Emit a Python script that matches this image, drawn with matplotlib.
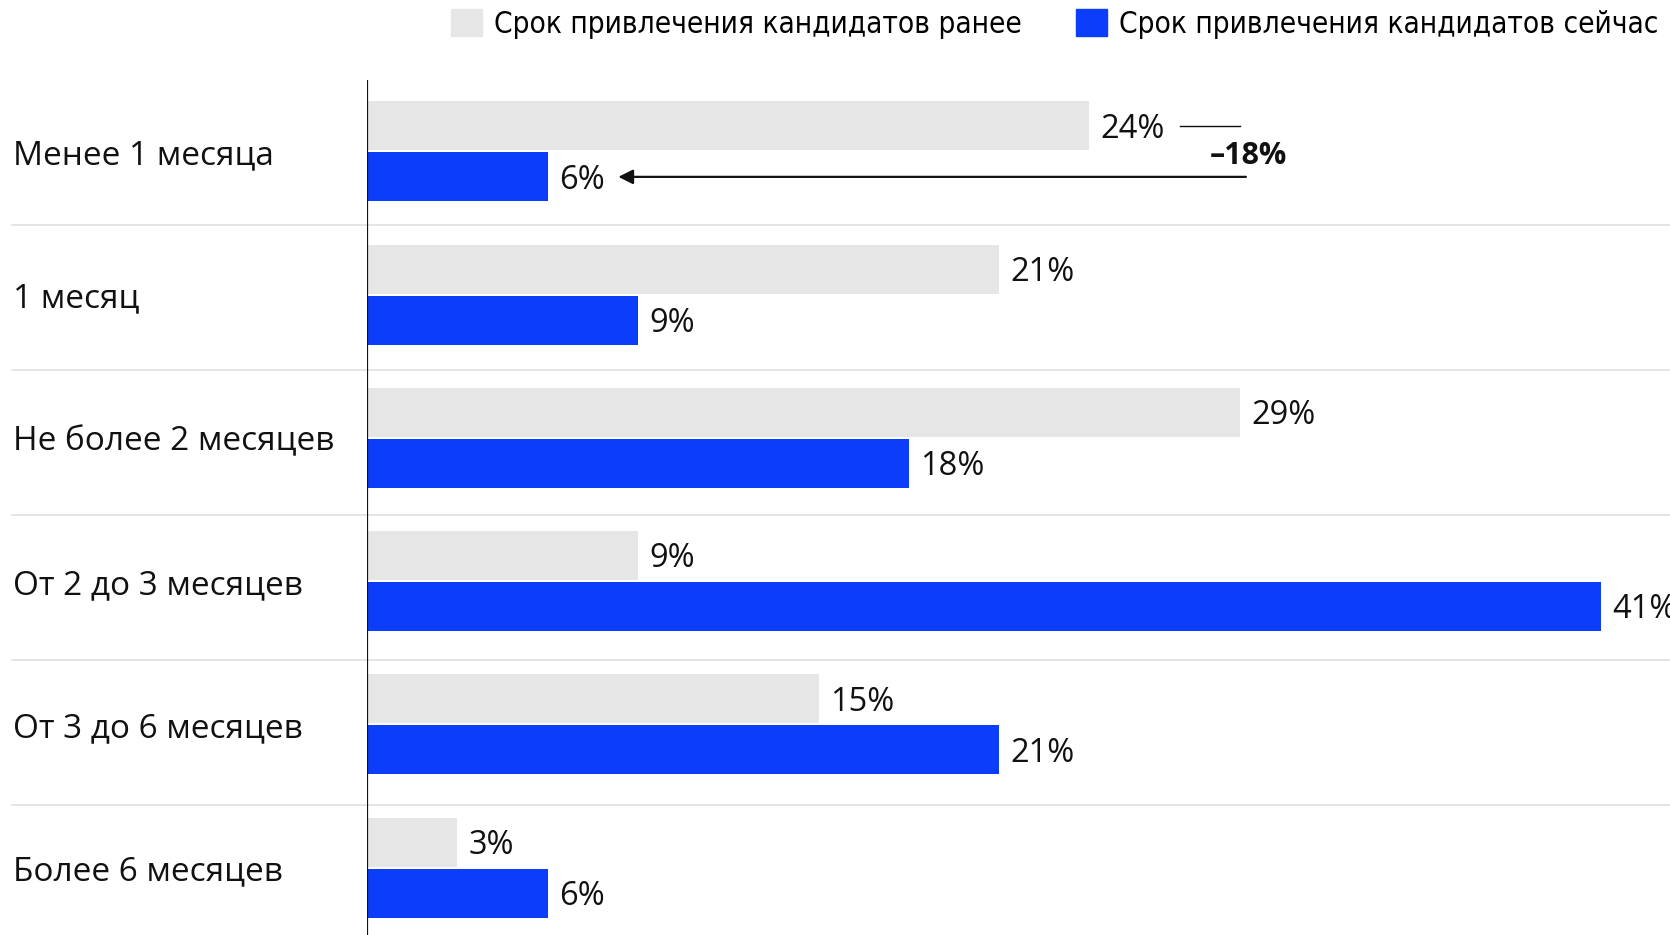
import numpy as np
import matplotlib.pyplot as plt
from matplotlib.patches import Patch
from matplotlib.transforms import blended_transform_factory

categories = ["Менее 1 месяца", "1 месяц", "Не более 2 месяцев",
              "От 2 до 3 месяцев", "От 3 до 6 месяцев", "Более 6 месяцев"]
before = [24, 21, 29, 9, 15, 3]
now = [6, 9, 18, 41, 21, 6]
legend_labels = ["Срок привлечения кандидатов ранее",
                 "Срок привлечения кандидатов сейчас"]

c_before = "#e6e6e6"
c_now = "#0b3dfb"
c_sep = "#e0e0e0"
plt.rcParams['font.family'] = ["Open Sans", "DejaVu Sans"]

fig = plt.figure(figsize=(16.7, 9.35), dpi=100)
ax = fig.add_axes([367 / 1670, 0, 1 - 367 / 1670, 855 / 935])

# groups sit a bit tighter than the separator grid
pitch = 0.988
y = np.arange(len(categories)) * pitch
y_before = y + 0.316
y_now = y + 0.668
bar_h = 0.338
ax.barh(y_before, before, height=bar_h, color=c_before)
ax.barh(y_now, now, height=bar_h, color=c_now)

txt_dy = 0.022  # nudge text down a little
for i in range(len(categories)):
    ax.text(before[i] + 0.37, y_before[i] + txt_dy, f"{before[i]}%", va="center",
            ha="left", fontsize=23.5, color="#111111")
    ax.text(now[i] + 0.37, y_now[i] + txt_dy, f"{now[i]}%", va="center",
            ha="left", fontsize=23.5, color="#111111")

# category labels and separators use figure x, data y
tr = blended_transform_factory(fig.transFigure, ax.transData)
for i, cat in enumerate(categories):
    ax.text(13 / 1670, y[i] + 0.5 + txt_dy, cat, va="center", ha="left",
            fontsize=24, color="#111111", transform=tr, clip_on=False)
for i in range(1, len(categories)):
    ax.plot([12 / 1670, 1], [i, i], color=c_sep, lw=1.2, transform=tr,
            clip_on=False, zorder=0)

# change marker for the first row
delta = now[0] - before[0]
ax.plot([before[0] + 3.0, before[0] + 5.0], [y_before[0], y_before[0]],
        color="#111111", lw=1)
ax.annotate("", xy=(now[0] + 2.35, y_now[0]), xytext=(before[0] + 5.2, y_now[0]),
            arrowprops=dict(arrowstyle="-|>", color="#111111", lw=1.6,
                            mutation_scale=22, shrinkA=0, shrinkB=0))
ax.text(before[0] + 5.3, 0.5 + txt_dy, f"–{abs(delta)}%", ha="center",
        va="center", fontsize=22, fontweight="bold", color="#111111")

ax.set_xlim(0, (1670 - 367) / 30.1)
ax.set_ylim(855 / 145, 0)
ax.axis("off")
ax.axvline(0, color="#111111", lw=1.6)

handles = [Patch(color=c_before), Patch(color=c_now)]
fig.legend(handles, legend_labels, loc="upper right", bbox_to_anchor=(1.009, 1.019),
           ncol=2, frameon=False, handlelength=1.05, handleheight=1.05,
           handletextpad=0.4, columnspacing=1.85,
           prop=dict(family="DejaVu Sans", stretch="condensed", size=21.3))

fig.savefig("out.png", dpi=100, facecolor="white")
